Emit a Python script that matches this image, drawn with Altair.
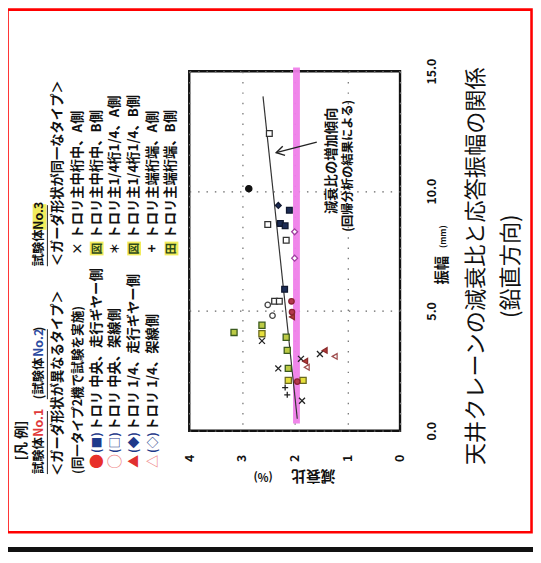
import altair as alt
import pandas as pd

FONT = "Noto Sans CJK JP"
OX, OY = 192, 68  # page position of the plot area's top-left corner (layout)

# ---------------- data ----------------
damping = [2.48, 2.87, 2.31, 2.10, 2.51, 2.27, 2.18, 2.00, 2.16, 2.00,
           2.19, 2.38, 2.29, 2.06, 2.51, 2.42, 2.05, 2.05, 3.15, 2.62,
           2.62, 2.62, 2.16, 2.14, 2.31, 2.12, 1.88, 1.80, 1.77, 1.52,
           1.43, 1.24, 2.12, 1.84, 1.95, 2.18, 2.14, 1.86]
amplitude = [12.4, 10.1, 9.4, 9.2, 8.6, 8.65, 8.55, 8.3, 7.95, 7.2,
             5.9, 5.4, 5.4, 5.4, 5.25, 4.8, 4.95, 4.75, 4.1, 4.4,
             4.05, 3.75, 3.9, 3.35, 2.6, 2.6, 3.0, 2.9, 2.65, 3.2,
             3.35, 3.1, 2.1, 2.1, 2.05, 1.8, 1.5, 1.25]
kind = ["os", "dot", "fd", "fs", "os", "fs", "fs", "od", "os", "od",
        "fs", "os", "os", "fc", "oc", "oc", "fc", "ft", "hz", "hz",
        "ht", "x", "hz", "hz", "x", "hz", "x", "ft", "ot", "x",
        "ft", "ot", "ht", "ht", "fc", "plus", "plus", "x"]
assert len(damping) == len(amplitude) == len(kind)

kinds = ["fc", "oc", "ft", "ot", "fs", "os", "fd", "od", "x", "plus", "hz", "ht", "dot"]
XPATH = "M-1,-1L1,1M-1,1L1,-1"
PLUSPATH = "M-1,0L1,0M0,-1L0,1"
kind_shapes = ["circle", "circle", "triangle-left", "triangle-left", "square", "square",
               "diamond", "diamond", XPATH, PLUSPATH, "square", "square", "circle"]
kind_fills = ["#b33a4c", "white", "#b33a3a", "white", "#1c2c55", "white",
              "#1c2c55", "white", "transparent", "transparent", "#bccb45", "#e6df3c", "#111111"]
kind_strokes = ["#8a2030", "#444444", "#8a2a2a", "#a05050", "#101830", "#333333",
                "#101830", "#a040a0", "#222222", "#222222", "#3b5a1e", "#6a6a20", "#111111"]
kind_sizes = [30, 40, 35, 35, 45, 45, 35, 35, 40, 45, 70, 70, 28]

trend_damp = [1.95, 2.60]
trend_amp = [0.5, 13.95]

arrow_damp = [1.58, 2.35]
arrow_amp = [12.04, 11.6]

band_damp = [1.90, 2.03]
band_amp = [0.3, 15.15]

x_ticks = [0, 1, 2, 3, 4]
y_ticks = [0, 5, 10, 15]

# ---------------- texts (page coordinates, layout) ----------------
LF = 13.5
texts = [
    # x, y, text, color, size, weight, align, angle
    (22, 463, "[凡 例]", "#111", 13.5, "bold", "left", 270),
    (40, 477, "試験体", "#111", 12.5, "bold", "left", 270),
    (40, 439, "No.1", "#e03a3a", 12.5, "bold", "left", 270),
    (40, 401, "(試験体", "#111", 12.5, "bold", "left", 270),
    (40, 358, "No.2", "#2b4aa0", 12.5, "bold", "left", 270),
    (40, 332, ")", "#111", 12.5, "bold", "left", 270),
    (59, 479, "＜ガーダ形状が異なるタイプ＞", "#111", LF, "bold", "left", 270),
    (79, 477, "(同一タイプ2機で試験を実施)", "#111", 12.8, "bold", "left", 270),
    (98, 464, "●", "#e8302a", 15, "bold", "center", 270),
    (98, 445, "(■)", "#1f3a8a", 12, "bold", "center", 270),
    (98, 433, "トロリ 中央、走行ギヤー側", "#111", LF, "bold", "left", 270),
    (117, 464, "○", "#ef8a8a", 15, "bold", "center", 270),
    (117, 445, "(□)", "#1f3a8a", 12, "bold", "center", 270),
    (117, 433, "トロリ 中央、架線側", "#111", LF, "bold", "left", 270),
    (136, 464, "▲", "#e03030", 13, "bold", "center", 270),
    (136, 445, "(◆)", "#1f3a8a", 12, "bold", "center", 270),
    (136, 433, "トロリ 1/4、走行ギヤー側", "#111", LF, "bold", "left", 270),
    (155, 464, "△", "#ef8a8a", 13, "bold", "center", 270),
    (155, 445, "(◇)", "#1f3a8a", 12, "bold", "center", 270),
    (155, 433, "トロリ 1/4、架線側", "#111", LF, "bold", "left", 270),
    (40, 266, "試験体", "#111", 12.5, "bold", "left", 270),
    (40, 229, "No.3", "#111", 12.5, "bold", "left", 270),
    (59, 266, "＜ガーダ形状が同一なタイプ＞", "#111", LF, "bold", "left", 270),
    (79, 248, "×", "#111", 13, "bold", "center", 270),
    (79, 238, "トロリ主中桁中、A側", "#111", LF, "bold", "left", 270),
    (98, 248, "図", "#2d4a1a", 12, "bold", "center", 270),
    (98, 238, "トロリ主中桁中、B側", "#111", LF, "bold", "left", 270),
    (117, 248, "＊", "#111", 12, "bold", "center", 270),
    (117, 238, "トロリ主1/4桁1/4、A側", "#111", LF, "bold", "left", 270),
    (136, 248, "図", "#2d4a1a", 12, "bold", "center", 270),
    (136, 238, "トロリ主1/4桁1/4、B側", "#111", LF, "bold", "left", 270),
    (155, 248, "+", "#111", 14, "bold", "center", 270),
    (155, 238, "トロリ主端桁端、A側", "#111", LF, "bold", "left", 270),
    (174, 248, "田", "#2d4a1a", 12, "bold", "center", 270),
    (174, 238, "トロリ主端桁端、B側", "#111", LF, "bold", "left", 270),
    (337, 159, "減衰比の増加傾向", "#111", 13.5, "bold", "center", 270),
    (353, 164, "(回帰分析の結果による)", "#111", 12.5, "bold", "center", 270),
    (450, 270, "振幅", "#111", 14.5, "bold", "center", 270),
    (450, 236, "(mm)", "#111", 8.5, "bold", "center", 270),
    (318, 479, "減衰比", "#111", 15, "bold", "center", 180),
    (267, 479, "(%)", "#111", 11.5, "bold", "center", 180),
    (483, 266, "天井クレーンの減衰比と応答振幅の関係", "#111", 22.5, "normal", "center", 270),
    (519, 266, "(鉛直方向)", "#111", 22.5, "normal", "center", 270),
]
tdf = pd.DataFrame(texts, columns=["x", "y", "text", "color", "size", "wt", "al", "angle"])
tdf["rx"] = tdf["x"] - OX
tdf["ry"] = tdf["y"] - OY

highlights = pd.DataFrame({
    "x1": [33, 91, 129, 167], "x2": [47, 105, 143, 181],
    "y1": [203, 241, 241, 241], "y2": [229, 255, 255, 255],
})
for c in ["x1", "x2"]:
    highlights[c] = highlights[c] - OX
for c in ["y1", "y2"]:
    highlights[c] = highlights[c] - OY

underlines = pd.DataFrame({"x": [48, 48, 48], "y1": [477, 401, 266], "y2": [413, 330, 204]})
underlines["x"] = underlines["x"] - OX
underlines["y1"] = underlines["y1"] - OY
underlines["y2"] = underlines["y2"] - OY

# ---------------- chart ----------------
xscale = alt.Scale(domain=[0, 4], reverse=True, nice=False, zero=False)
yscale = alt.Scale(domain=[0, 15], nice=False, zero=False)

x_axis = alt.Axis(values=x_ticks, format="d", labelAngle=270, labelAlign="right",
                  labelBaseline="middle", labelPadding=24, ticks=False, domain=False,
                  grid=True, gridDash=[1.5, 9], gridColor="#777", gridWidth=1.3,
                  labelFont=FONT, labelFontSize=12.5, labelFontWeight="bold",
                  labelColor="#111", title=None)
y_axis = alt.Axis(orient="right", values=y_ticks, format=".1f", labelAngle=270,
                  labelAlign="center", labelBaseline="top", labelPadding=26,
                  ticks=False, domain=False, grid=True, gridDash=[1.5, 7],
                  gridColor="#666", gridWidth=1.3, labelFont=FONT, labelFontSize=12.5,
                  labelFontWeight="bold", labelColor="#111", title=None)

pts = pd.DataFrame({"damping": damping, "amp": amplitude, "kind": kind})

band = alt.Chart(pd.DataFrame({"d1": [band_damp[0]], "d2": [band_damp[1]],
                               "a1": [band_amp[0]], "a2": [band_amp[1]]})).mark_rect(
    color="#ef7fe9", opacity=0.95).encode(
    x=alt.X("d1:Q", scale=xscale, axis=x_axis), x2="d2:Q",
    y=alt.Y("a1:Q", scale=yscale, axis=y_axis), y2="a2:Q")

trend = alt.Chart(pd.DataFrame({"damping": trend_damp, "amp": trend_amp})).mark_line(
    color="#333", strokeWidth=1.2).encode(
    x=alt.X("damping:Q", scale=xscale), y=alt.Y("amp:Q", scale=yscale))

arrow_line = alt.Chart(pd.DataFrame({"damping": arrow_damp, "amp": arrow_amp})).mark_line(
    color="#222", strokeWidth=1.3).encode(
    x=alt.X("damping:Q", scale=xscale), y=alt.Y("amp:Q", scale=yscale))

arrow_head = alt.Chart(pd.DataFrame({"damping": [arrow_damp[1]], "amp": [arrow_amp[1]]})).mark_point(
    shape="M1,-0.6L0,0L1,0.6", size=260, angle=346, stroke="#222", strokeWidth=1.4,
    fill="transparent", opacity=1).encode(
    x=alt.X("damping:Q", scale=xscale), y=alt.Y("amp:Q", scale=yscale))

points = alt.Chart(pts).mark_point(strokeWidth=1.3, opacity=1).encode(
    x=alt.X("damping:Q", scale=xscale),
    y=alt.Y("amp:Q", scale=yscale),
    shape=alt.Shape("kind:N", scale=alt.Scale(domain=kinds, range=kind_shapes), legend=None),
    fill=alt.Fill("kind:N", scale=alt.Scale(domain=kinds, range=kind_fills), legend=None),
    stroke=alt.Stroke("kind:N", scale=alt.Scale(domain=kinds, range=kind_strokes), legend=None),
    size=alt.Size("kind:O", scale=alt.Scale(domain=kinds, range=kind_sizes), legend=None),
)

hl = alt.Chart(highlights).mark_rect(color="#f2ec5c").encode(
    x=alt.X("x1:Q", scale=None), x2="x2:Q", y=alt.Y("y1:Q", scale=None), y2="y2:Q")

ul = alt.Chart(underlines).mark_rule(color="#222", strokeWidth=1).encode(
    x=alt.X("x:Q", scale=None), y=alt.Y("y1:Q", scale=None), y2="y2:Q")


def text_layer(df, align, weight):
    return alt.Chart(df).mark_text(align=align, baseline="middle", font=FONT,
                                   fontWeight=weight).encode(
        x=alt.X("rx:Q", scale=None), y=alt.Y("ry:Q", scale=None),
        text="text:N", color=alt.Color("color:N", scale=None),
        size=alt.Size("size:Q", scale=None), angle=alt.Angle("angle:Q", scale=None))


t1 = text_layer(tdf[(tdf["al"] == "left") & (tdf["wt"] == "bold")], "left", "bold")
t2 = text_layer(tdf[(tdf["al"] == "center") & (tdf["wt"] == "bold")], "center", "bold")
t3 = text_layer(tdf[(tdf["wt"] == "normal")], "center", "normal")

frame_df = pd.DataFrame({"a": [0]})
red_border = alt.Chart(frame_df).mark_rect(fillOpacity=0, stroke="#ff0000", strokeWidth=2.6).encode(
    x=alt.value(7.5 - OX), x2=alt.value(539.5 - OX), y=alt.value(5.5 - OY), y2=alt.value(536 - OY))
black_bar = alt.Chart(frame_df).mark_rect(color="#111").encode(
    x=alt.value(0 - OX), x2=alt.value(541 - OX), y=alt.value(551 - OY), y2=alt.value(556 - OY))

chart = alt.layer(
    band, trend, arrow_line, arrow_head, points, hl, ul, t1, t2, t3, red_border, black_bar
).properties(
    width=214, height=365,
    autosize=alt.AutoSizeParams(type="none"),
    padding={"left": 184, "top": 60, "right": 135, "bottom": 122},
    background="white",
).configure(font=FONT).configure_view(stroke="#111", strokeWidth=2.4)

chart.save("out.html", embed_options={"renderer": "svg", "actions": False})
